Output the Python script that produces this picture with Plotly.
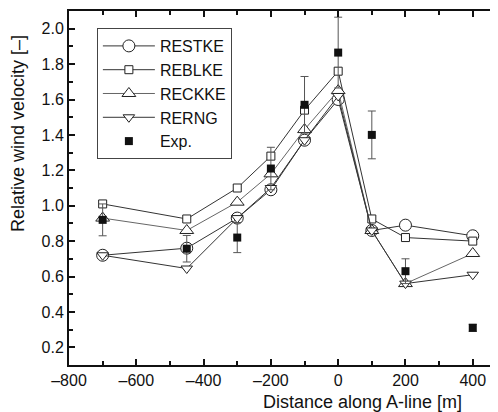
import plotly.graph_objects as go

x_sim = [-700, -450, -300, -200, -100, 0, 100, 200, 400]
restke = [0.72, 0.76, 0.93, 1.09, 1.37, 1.60, 0.86, 0.89, 0.83]
reblke = [1.01, 0.925, 1.10, 1.28, 1.54, 1.76, 0.925, 0.82, 0.80]
reckke = [0.93, 0.86, 1.02, 1.18, 1.43, 1.65, 0.86, 0.56, 0.73]
rerng = [0.72, 0.645, 0.93, 1.10, 1.37, 1.62, 0.86, 0.56, 0.61]
x_exp = [-700, -450, -300, -200, -100, 0, 100, 200, 400]
exp_val = [0.92, 0.757, 0.82, 1.21, 1.57, 1.865, 1.40, 0.63, 0.31]
exp_err = [0.09, 0.075, 0.085, 0.12, 0.16, 0.20, 0.135, 0.07, 0.02]

x_ticks = [-800, -600, -400, -200, 0, 200, 400]
y_ticks = [0.2, 0.4, 0.6, 0.8, 1.0, 1.2, 1.4, 1.6, 1.8, 2.0]

FONT = "Liberation Sans, Arial, sans-serif"
fig = go.Figure()

def sim(name, y, sym, size, lcolor):
    fig.add_trace(go.Scatter(
        x=x_sim, y=y, name=name, mode="lines+markers",
        line=dict(color=lcolor, width=1),
        marker=dict(symbol=sym, size=size, color="white",
                    line=dict(color="#222", width=1)),
    ))

sim("RESTKE", restke, "circle", 12, "#333")
sim("REBLKE", reblke, "square", 8, "#333")
sim("RECKKE", reckke, "triangle-up", 12, "#666")
sim("RERNG", rerng, "triangle-down", 10, "#333")

fig.add_trace(go.Scatter(
    x=x_exp, y=exp_val, name="Exp.", mode="markers",
    marker=dict(symbol="square", size=8, color="#111", line=dict(width=0)),
    error_y=dict(type="data", array=exp_err, visible=True,
                 color="#555", thickness=1, width=4),
))

# page body has an 8px default margin; size the figure to fill the window
fig.update_layout(
    width=490, height=404,
    margin=dict(l=61, r=0, t=3, b=47),
    paper_bgcolor="white", plot_bgcolor="white",
    font=dict(family=FONT, size=16, color="#111"),
    showlegend=True,
    legend=dict(x=0.065, y=0.952, xanchor="left", yanchor="top",
                bordercolor="#444", borderwidth=1, bgcolor="white",
                font=dict(size=16), tracegroupgap=0, itemwidth=52),
    annotations=[
        dict(text="Distance along A-line [m]", xref="paper", yref="paper",
             x=0.683, y=-0.104, xanchor="center", yanchor="middle",
             showarrow=False, font=dict(size=18)),
        dict(text="Relative wind velocity [\u2013]", xref="paper", yref="paper",
             x=-0.119, y=0.655, xanchor="center", yanchor="middle",
             textangle=-90, showarrow=False, font=dict(size=18)),
    ],
)
fig.update_xaxes(
    range=[-800, 475], tickvals=x_ticks,
    ticktext=[f"{v:.0f}".replace("-", "\u2013") for v in x_ticks],
    ticks="inside", ticklen=6, tickwidth=1.5, tickcolor="#111",
    minor=dict(ticks="inside", ticklen=4, dtick=100, tickcolor="#111", tickwidth=1.5),
    showline=True, linecolor="#111", linewidth=2, mirror="ticks",
    showgrid=False, zeroline=False, automargin=False,
    tickfont=dict(size=16),
)
fig.update_yaxes(
    range=[0.1, 2.1], tickvals=y_ticks, ticktext=[f"{v:.1f}" for v in y_ticks],
    ticks="inside", ticklen=6, tickwidth=1.5, tickcolor="#111",
    minor=dict(ticks="inside", ticklen=4, dtick=0.1, tick0=0.1, tickcolor="#111", tickwidth=1.5),
    showline=True, linecolor="#111", linewidth=2, mirror=False,
    showgrid=False, zeroline=False, automargin=False,
    tickfont=dict(size=16),
)

fig.write_html("out.html")
